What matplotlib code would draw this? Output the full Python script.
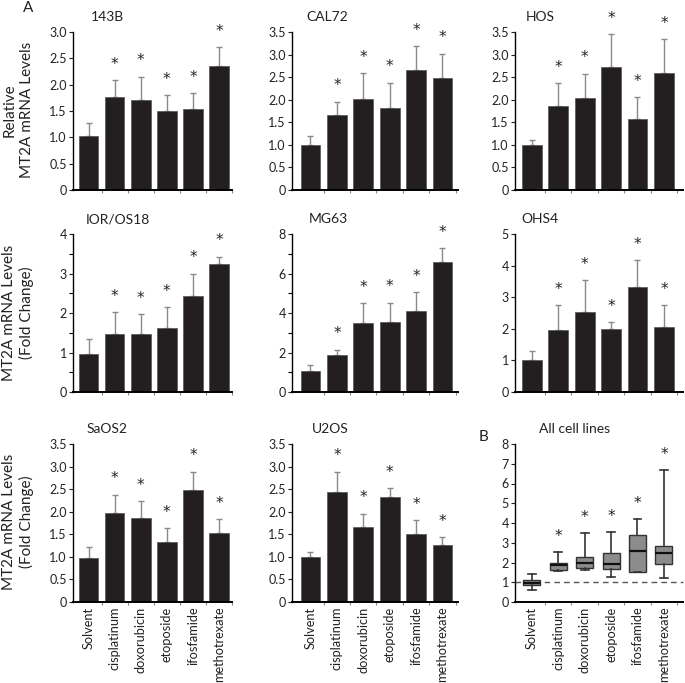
import matplotlib.pyplot as plt
import numpy as np

plt.rcParams['font.family'] = ['Lato', 'DejaVu Sans']

treatments = ['Solvent', 'cisplatinum', 'doxorubicin', 'etoposide', 'ifosfamide', 'methotrexate']
significant = [False, True, True, True, True, True]

# bar panels: mean fold change and upper error (SD)
names = ['143B', 'CAL72', 'HOS', 'IOR/OS18', 'MG63', 'OHS4', 'SaOS2', 'U2OS']

mean_143b = [1.03, 1.76, 1.70, 1.50, 1.54, 2.36]
err_143b = [0.25, 0.33, 0.45, 0.30, 0.30, 0.35]
mean_cal72 = [0.99, 1.67, 2.01, 1.81, 2.65, 2.47]
err_cal72 = [0.20, 0.29, 0.58, 0.57, 0.54, 0.55]
mean_hos = [0.99, 1.85, 2.04, 2.73, 1.57, 2.60]
err_hos = [0.11, 0.51, 0.54, 0.73, 0.48, 0.74]
mean_ioros18 = [0.97, 1.48, 1.48, 1.61, 2.42, 3.25]
err_ioros18 = [0.36, 0.55, 0.49, 0.53, 0.58, 0.18]
mean_mg63 = [1.04, 1.87, 3.47, 3.54, 4.11, 6.60]
err_mg63 = [0.34, 0.27, 1.03, 0.99, 0.96, 0.67]
mean_ohs4 = [1.01, 1.96, 2.52, 1.99, 3.33, 2.07]
err_ohs4 = [0.30, 0.78, 1.03, 0.21, 0.85, 0.67]
mean_saos2 = [0.98, 1.98, 1.87, 1.34, 2.48, 1.52]
err_saos2 = [0.23, 0.40, 0.37, 0.30, 0.41, 0.31]
mean_u2os = [1.00, 2.44, 1.67, 2.32, 1.50, 1.27]
err_u2os = [0.10, 0.45, 0.29, 0.20, 0.31, 0.16]

means = [mean_143b, mean_cal72, mean_hos, mean_ioros18, mean_mg63, mean_ohs4, mean_saos2, mean_u2os]
errs = [err_143b, err_cal72, err_hos, err_ioros18, err_mg63, err_ohs4, err_saos2, err_u2os]

ticks_30 = [0, 0.5, 1.0, 1.5, 2.0, 2.5, 3.0]
labels_30 = ['0', '0.5', '1.0', '1.5', '2.0', '2.5', '3.0']
ticks_35 = [0, 0.5, 1.0, 1.5, 2.0, 2.5, 3.0, 3.5]
labels_35 = ['0', '0.5', '1.0', '1.5', '2.0', '2.5', '3.0', '3.5']
ticks_4 = [0, 1, 2, 3, 4]
ticks_8 = [0, 2, 4, 6, 8]
ticks_5 = [0, 1, 2, 3, 4, 5]
ticks_box = [0, 1, 2, 3, 4, 5, 6, 7, 8]

yticks = [ticks_30, ticks_35, ticks_35, ticks_4, ticks_8, ticks_5, ticks_35, ticks_35]
ylabels_tk = [labels_30, labels_35, labels_35,
              [str(t) for t in ticks_4], [str(t) for t in ticks_8], [str(t) for t in ticks_5],
              labels_35, labels_35]
yminor = [None, None, None, 0.5, 1, None, None, None]

# all cell lines box plot (whisker low, Q1, median, Q3, whisker high)
box_lo = [0.59, 1.58, 1.60, 1.25, 1.52, 1.20]
box_q1 = [0.88, 1.63, 1.72, 1.65, 1.52, 1.90]
box_med = [0.96, 1.89, 2.00, 1.94, 2.59, 2.49]
box_q3 = [1.09, 1.97, 2.26, 2.49, 3.37, 2.83]
box_hi = [1.40, 2.53, 3.47, 3.55, 4.18, 6.68]

W, H = 685, 683
fig = plt.figure(figsize=(W / 100, H / 100), dpi=100)

col_left = [73, 292, 515]
col_width = [159, 166, 168]
col_lead = [0.6, 0.7, 0.64]
row_zero = [190, 392, 602]
ax_h = 158
px_per_unit = 26.4
title_off = [34, 35, 25, 45, 36, 25, 34, 38, 60]


def make_axes(r, c):
    ax = fig.add_axes([col_left[c] / W, (H - row_zero[r]) / H, col_width[c] / W, ax_h / H])
    for s in ['top', 'right']:
        ax.spines[s].set_visible(False)
    ax.spines['left'].set_linewidth(1.0)
    ax.spines['bottom'].set_linewidth(1.4)
    ax.set_xlim(-col_lead[c], -col_lead[c] + col_width[c] / px_per_unit)
    ax.tick_params(axis='y', labelsize=9, length=3, width=0.8, pad=1.5, colors='#222222')
    ax.tick_params(axis='y', which='minor', length=3, width=0.8)
    ax.set_xticks(np.arange(6))
    ax.set_xticks(np.arange(6) + 0.5, minor=True)
    ax.tick_params(axis='x', which='major', length=0)
    ax.tick_params(axis='x', which='minor', length=2.5, width=0.8, color='#888888')
    if r == 2:
        ax.set_xticklabels(treatments, rotation=90, fontsize=9.2, color='#222222')
    else:
        ax.set_xticklabels([])
    return ax


x = np.arange(6)
for i in range(9):
    r, c = divmod(i, 3)
    ax = make_axes(r, c)
    if i < 8:
        m = np.array(means[i])
        e = np.array(errs[i])
        ymax = yticks[i][-1]
        ax.bar(x, m, width=0.75, color='#231f20', edgecolor='#555555', linewidth=0.5, zorder=2)
        ax.errorbar(x, m, yerr=[np.zeros(6), e], fmt='none', ecolor='#8a8a8a',
                    elinewidth=1.0, capsize=2.5, capthick=1.0, zorder=1)
        top = m + e
        ax.set_ylim(0, ymax)
        ax.set_yticks(yticks[i])
        ax.set_yticklabels(ylabels_tk[i])
        if yminor[i]:
            ax.set_yticks(np.arange(0, ymax + 0.01, yminor[i]), minor=True)
        title = names[i]
    else:
        stats = []
        for k in range(6):
            stats.append(dict(whislo=box_lo[k], q1=box_q1[k], med=box_med[k],
                              q3=box_q3[k], whishi=box_hi[k], fliers=[]))
        ax.bxp(stats, positions=x, widths=0.65, patch_artist=True, capwidths=0.3,
               boxprops=dict(facecolor='#8c8c8c', edgecolor='#333333', linewidth=1.0),
               medianprops=dict(color='#111111', linewidth=1.6),
               whiskerprops=dict(color='#333333', linewidth=1.2),
               capprops=dict(color='#333333', linewidth=1.2), manage_ticks=False)
        ax.axhline(1, color='#555555', lw=1.0, ls=(0, (4, 3)), zorder=0, clip_on=False)
        ymax = 8
        ax.set_ylim(0, ymax)
        ax.set_yticks(ticks_box)
        ax.set_xticks(np.arange(6))
        ax.set_xticklabels(treatments, rotation=90, fontsize=9.2, color='#222222')
        top = np.array(box_hi)
        title = 'All cell lines'
    for k in range(6):
        if significant[k]:
            ax.text(x[k], top[k] + 0.10 * ymax, '*', ha='center', va='center',
                    fontsize=11, family='DejaVu Sans', color='#222222', clip_on=False)
    ax.text(title_off[i] / col_width[c], 1 + 15 / ax_h, title, transform=ax.transAxes,
            ha='center', va='center', fontsize=10, color='#222222')

# y axis labels on the left column
fig.text(18 / W, 1 - 110 / H, 'Relative\nMT2A mRNA Levels', rotation=90, ha='center',
         va='center', multialignment='center', fontsize=11, color='#222222', linespacing=1.3)
fig.text(18 / W, 1 - 313 / H, 'MT2A mRNA Levels\n(Fold Change)', rotation=90, ha='center',
         va='center', multialignment='center', fontsize=11, color='#222222', linespacing=1.3)
fig.text(18 / W, 1 - 522 / H, 'MT2A mRNA Levels\n(Fold Change)', rotation=90, ha='center',
         va='center', multialignment='center', fontsize=11, color='#222222', linespacing=1.3)

fig.text(28 / W, 1 - 8 / H, 'A', ha='center', va='center', fontsize=11, color='#222222')
fig.text(483 / W, 1 - 437 / H, 'B', ha='center', va='center', fontsize=11, color='#222222')

fig.savefig('out.png', dpi=100)
